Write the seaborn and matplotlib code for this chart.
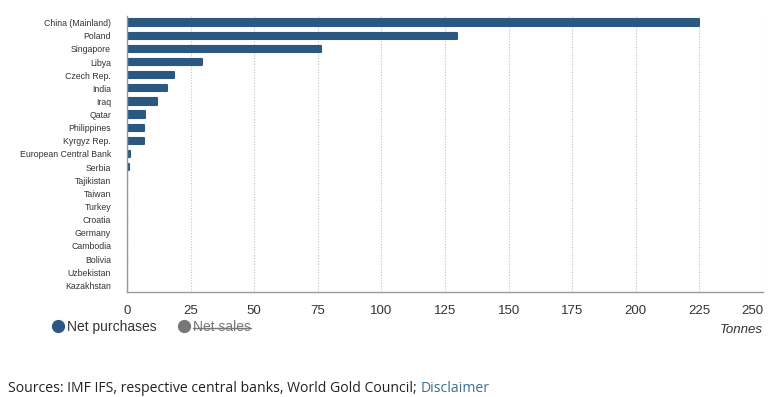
import matplotlib
matplotlib.use("Agg")
import matplotlib.pyplot as plt
from matplotlib.lines import Line2D
import seaborn as sns
import pandas as pd

# Central bank net gold purchases (tonnes)
countries = ["China (Mainland)", "Poland", "Singapore", "Libya", "Czech Rep.", "India",
             "Iraq", "Qatar", "Philippines", "Kyrgyz Rep.", "European Central Bank",
             "Serbia", "Tajikistan", "Taiwan", "Turkey", "Croatia", "Germany",
             "Cambodia", "Bolivia", "Uzbekistan", "Kazakhstan"]
net_purchases = [224.8, 129.6, 76.1, 29.5, 18.6, 15.9, 11.8, 7.2, 6.8, 6.8, 1.2,
                 0.6, 0, 0, 0, 0, 0, 0, 0, 0, 0]
x_ticks = [0, 25, 50, 75, 100, 125, 150, 175, 200, 225, 250]

bar_color = "#2a5880"
grey = "#777777"

df = pd.DataFrame({"country": countries, "tonnes": net_purchases})

sns.set_style("white")
plt.rcParams["font.family"] = ["Liberation Sans", "DejaVu Sans"]

fig = plt.figure(figsize=(7.72, 3.97), dpi=100)
ax = fig.add_axes([127 / 772, 1 - 292 / 397, (763 - 127) / 772, (292 - 16) / 397])

sns.barplot(data=df, x="tonnes", y="country", color=bar_color, saturation=1,
            width=0.48, ax=ax, edgecolor=bar_color, linewidth=1.5)
for p in ax.patches:
    p.set_joinstyle("round")

ax.set_xlim(0, 250)
ax.set_xticks(x_ticks)
ax.set_xticklabels([str(t) for t in x_ticks], fontsize=9.5, color="#333333")
ax.get_xticklabels()[-1].set_ha("right")
ax.get_xticklabels()[-1].set_x(250)
ax.tick_params(axis="x", length=0, pad=9)
ax.tick_params(axis="y", length=0, pad=11.5, labelsize=6.3, labelcolor="#333333")
ax.set_xlabel("")
ax.set_ylabel("")
ax.grid(axis="x", linestyle=(0, (1, 1.5)), color="#c4c4c4", linewidth=0.8)
ax.set_axisbelow(True)
for s in ["top", "right"]:
    ax.spines[s].set_visible(False)
for s in ["left", "bottom"]:
    ax.spines[s].set_color("#999999")
    ax.spines[s].set_linewidth(1)

fig.text(763 / 772, 1 - 330 / 397, "Tonnes", ha="right", va="center",
         fontsize=9.5, style="italic", color="#333333")

handles = [Line2D([], [], marker="o", linestyle="", markersize=8.5, color=bar_color),
           Line2D([], [], marker="o", linestyle="", markersize=8.5, color=grey)]
leg = fig.legend(handles, ["Net purchases", "Net sales"], loc="center left",
                 bbox_to_anchor=(44 / 772, 1 - 327 / 397), ncol=2, frameon=False,
                 fontsize=10, handletextpad=0.15, columnspacing=1.5, borderpad=0,
                 handlelength=1.0)
for t in leg.get_texts():
    t.set_color("#333333")
sales_text = leg.get_texts()[1]
sales_text.set_color(grey)

# strike through "Net sales"
fig.canvas.draw()
bb = sales_text.get_window_extent().transformed(fig.transFigure.inverted())
ymid = bb.y0 + bb.height * 0.42
fig.add_artist(Line2D([bb.x0, bb.x1], [ymid, ymid], color=grey, linewidth=1,
                      transform=fig.transFigure))

fig.text(8 / 772, 1 - 388 / 397, "Sources: IMF IFS, respective central banks, World Gold Council; ",
         ha="left", va="center", fontsize=10.1, family="Open Sans", color="#222222")
fig.canvas.draw()
src = fig.texts[-1].get_window_extent().transformed(fig.transFigure.inverted())
fig.text(src.x1, 1 - 388 / 397, "Disclaimer", ha="left", va="center",
         fontsize=10.1, family="Open Sans", color="#3a6f8f")

fig.savefig("out.png", dpi=100)
